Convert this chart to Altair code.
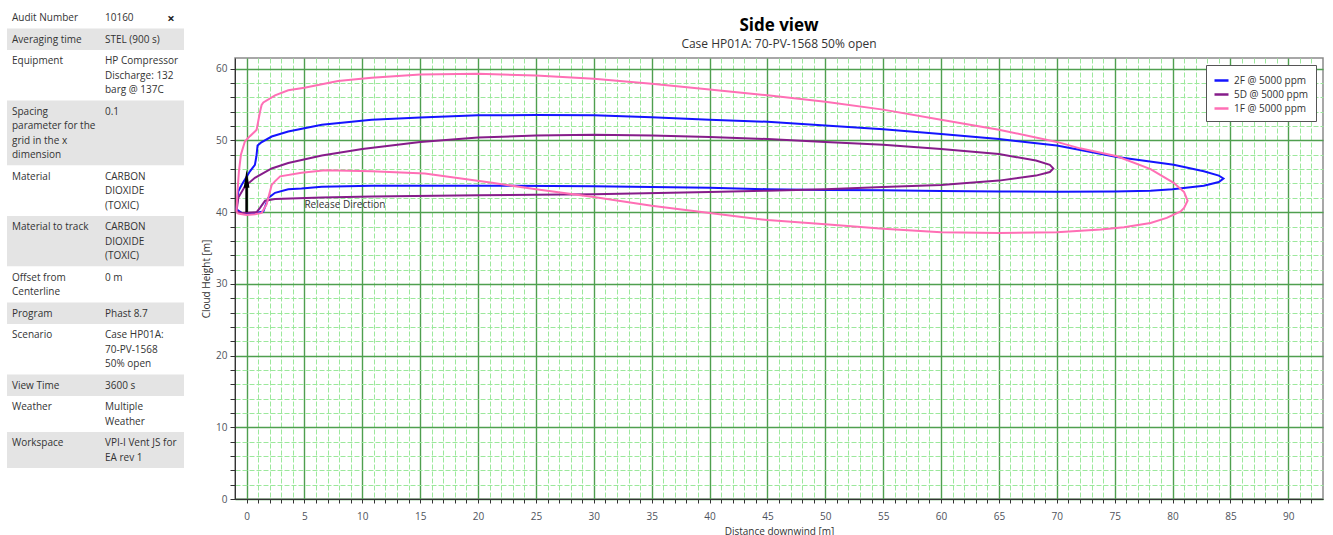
import altair as alt
import pandas as pd

# ---------------- info panel ----------------
INFO_LABELS = [
    ["Audit Number"],
    ["Averaging time"],
    ["Equipment"],
    ["Spacing", "parameter for the", "grid in the x", "dimension"],
    ["Material"],
    ["Material to track"],
    ["Offset from", "Centerline"],
    ["Program"],
    ["Scenario"],
    ["View Time"],
    ["Weather"],
    ["Workspace"],
]
INFO_VALUES = [
    ["10160"],
    ["STEL (900 s)"],
    ["HP Compressor", "Discharge: 132", "barg @ 137C"],
    ["0.1"],
    ["CARBON", "DIOXIDE", "(TOXIC)"],
    ["CARBON", "DIOXIDE", "(TOXIC)"],
    ["0 m"],
    ["Phast 8.7"],
    ["Case HP01A:", "70-PV-1568", "50% open"],
    ["3600 s"],
    ["Multiple", "Weather"],
    ["VPI-I Vent JS for", "EA rev 1"],
]

# ---------------- dispersion contours ----------------
SERIES = ["2F @ 5000 ppm", "5D @ 5000 ppm", "1F @ 5000 ppm"]
COLORS = ["#1414ff", "#861c8a", "#ff6fb5"]

F2_X = [-0.87, -0.72, -0.43, 0.29, 0.72, 0.85, 0.95, 1.24, 2.17, 3.6, 6.5, 10.8, 15, 20, 25,
        30, 35, 40, 45, 50, 55, 60, 65, 70, 75.2, 80.1, 82.7, 84.0, 84.4, 84.0, 82.7, 80.0,
        78.1, 75, 70, 65, 60, 55, 50, 45, 40, 30, 20, 10.8, 6.5, 4.75, 3.6, 2.46, 1.88, 1.45,
        0.72, -0.43, -0.87]
F2_Y = [40.4, 42.9, 43.8, 45.7, 46.6, 47.8, 49.3, 49.7, 50.55, 51.25, 52.2, 52.9, 53.2, 53.5,
        53.55, 53.5, 53.25, 52.9, 52.6, 52.1, 51.55, 50.9, 50.2, 49.3, 47.7, 46.6, 45.7, 45.1,
        44.7, 44.2, 43.7, 43.2, 43.0, 42.9, 42.85, 42.9, 42.95, 43.05, 43.1, 43.2, 43.4, 43.6,
        43.7, 43.7, 43.55, 43.3, 43.2, 42.7, 42.0, 40.1, 39.85, 39.9, 40.4]

D5_X = [-0.87, -0.72, -0.14, 0.72, 2.17, 3.6, 6.5, 10, 15, 20, 25, 30, 35, 40, 45, 50, 55, 60,
        65, 68.2, 69.4, 69.7, 69.4, 68.2, 65, 60, 55, 50, 45, 40, 30, 20, 10.8, 6.5, 2.46, 1.6,
        1.16, 0.87, -0.43, -0.87]
D5_Y = [40.1, 42.0, 43.6, 44.8, 46.1, 46.85, 47.9, 48.8, 49.8, 50.4, 50.7, 50.8, 50.7, 50.5,
        50.2, 49.8, 49.4, 48.8, 48.1, 47.2, 46.6, 46.1, 45.6, 45.1, 44.4, 43.8, 43.5, 43.2, 43.0,
        42.8, 42.5, 42.35, 42.2, 42.05, 41.85, 41.6, 40.6, 40.0, 39.9, 40.1]

F1_X = [-0.87, -0.80, -0.66, -0.49, -0.14, 0.29, 0.72, 0.87, 1.16, 1.3, 1.45, 2.46, 3.6, 5.0,
        7.9, 10.8, 15, 20, 25, 30, 35, 40, 45, 50, 55, 60, 65, 70, 72, 75.2, 78.1, 80.1, 81.0,
        81.3, 81.0, 80.7, 79.5, 78.1, 75.8, 73.8, 70, 65, 60, 55, 50, 45, 40, 35, 30, 25, 21.2,
        15.4, 10.8, 6.8, 4.75, 2.9, 2.45, 2.17, 1.73, 1.3, 0.72, 0, -0.72, -0.87]
F1_Y = [40.05, 42.5, 45.7, 48.0, 49.9, 50.6, 51.25, 51.5, 54.0, 54.95, 55.3, 56.3, 57.0, 57.35,
        58.3, 58.75, 59.2, 59.3, 59.05, 58.6, 57.9, 57.1, 56.3, 55.4, 54.3, 52.9, 51.5, 49.8,
        48.9, 47.8, 46.0, 44.1, 42.8, 41.6, 40.6, 40.1, 39.2, 38.5, 37.9, 37.6, 37.2, 37.1,
        37.2, 37.7, 38.3, 38.9, 39.9, 40.9, 42.1, 43.2, 44.1, 45.4, 45.7, 45.85, 45.5, 45.0,
        44.3, 43.8, 41.1, 39.9, 39.7, 39.6, 39.8, 40.05]

# release direction arrow (x, base height, tip height) and its caption
ARROW_X = 0.0
ARROW_BASE = 40.0
ARROW_TIP = 45.9
ARROW_HEAD_LEN = 2.5
RELEASE_LABEL = "Release Direction"
RELEASE_LABEL_X = 5.0
RELEASE_LABEL_Y = 41.0

X_DOMAIN = [-1, 93]
Y_DOMAIN = [0, 61.5]
X_TICKS = list(range(0, 93))
Y_TICKS = list(range(0, 62, 2))

FONT = "Open Sans"
TEXT_DARK = "#333333"

# ---------------- layout sizes ----------------
PLOT_W, PLOT_H = 1088, 441
TABLE_W = 177
TABLE_RISE = 51          # info panel starts this far above the plot area
LINE_H = 14.5
ROW_PAD = 7
TEXT_TOP = 6.4

# ---------------- info panel chart ----------------
rows = []
top = 0.0
for i, (lab, val) in enumerate(zip(INFO_LABELS, INFO_VALUES)):
    n = max(len(lab), len(val))
    h = ROW_PAD + LINE_H * n
    rows.append({
        "top": top, "bottom": top + h, "ty": top + TEXT_TOP,
        "label": "\n".join(lab), "value": "\n".join(val), "shaded": i % 2 == 1,
    })
    top += h
rows_df = pd.DataFrame(rows)
span = top + 10
tscale = alt.Scale(domain=[0, span], range=[-TABLE_RISE, span - TABLE_RISE])

t_base = alt.Chart(rows_df)
shade = t_base.mark_rect().encode(
    y=alt.Y("top:Q", scale=tscale, axis=None),
    y2="bottom:Q",
    x=alt.value(0),
    x2=alt.value(TABLE_W),
    color=alt.condition("datum.shaded", alt.value("#e4e4e4"), alt.value("#ffffff")),
)
txt_kw = dict(align="left", baseline="top", lineBreak="\n", lineHeight=LINE_H,
              fontSize=10, font=FONT, color=TEXT_DARK)
labels = t_base.mark_text(**txt_kw).encode(
    x=alt.value(5), y=alt.Y("ty:Q", scale=tscale, axis=None), text="label:N")
values = t_base.mark_text(**txt_kw).encode(
    x=alt.value(98), y=alt.Y("ty:Q", scale=tscale, axis=None), text="value:N")
close = alt.Chart(rows_df.head(1)).mark_text(
    text="×", fontSize=13, fontWeight="bold", font=FONT, color="#222", baseline="top"
).encode(x=alt.value(164), y=alt.Y("ty:Q", scale=tscale, axis=None))

table = alt.layer(shade, labels, values, close).properties(
    width=TABLE_W, height=PLOT_H,
    view=alt.ViewBackground(stroke="transparent"),
)

# ---------------- side view chart ----------------
frames = []
for name, xs, ys in zip(SERIES, [F2_X, D5_X, F1_X], [F2_Y, D5_Y, F1_Y]):
    frames.append(pd.DataFrame({"series": name, "x": xs, "y": ys, "i": range(len(xs))}))
lines_df = pd.concat(frames, ignore_index=True)

xscale = alt.Scale(domain=X_DOMAIN, nice=False, zero=False)
yscale = alt.Scale(domain=Y_DOMAIN, nice=False, zero=False)

x_major = "datum.value % 5 === 0"
y_major = "datum.value % 10 === 0"
axis_common = dict(
    labelFont=FONT, labelFontSize=10, labelColor="#4e535c", format="d",
    titleFont=FONT, titleFontSize=10, titleColor=TEXT_DARK, titleFontWeight="normal",
    domainColor="#333333", tickColor="#333333", labelFlush=False, tickCount=500,
)
x_axis = alt.Axis(
    values=X_TICKS,
    labelExpr=f"{x_major} ? datum.label : ''",
    tickSize=4, labelPadding=8, titlePadding=5,
    gridColor={"condition": {"test": x_major, "value": "#4f9f4f"}, "value": "#9ce89c"},
    gridDash={"condition": {"test": x_major, "value": []}, "value": [5, 2]},
    gridWidth={"condition": {"test": x_major, "value": 1.4}, "value": 1},
    **axis_common,
)
y_axis = alt.Axis(
    values=Y_TICKS,
    labelExpr=f"{y_major} ? datum.label : ''",
    tickSize=5, labelPadding=3, titlePadding=4,
    gridColor={"condition": {"test": y_major, "value": "#4f9f4f"}, "value": "#9ce89c"},
    gridDash={"condition": {"test": y_major, "value": []}, "value": [5, 2]},
    gridWidth={"condition": {"test": y_major, "value": 1.4}, "value": 1},
    **axis_common,
)

lines = alt.Chart(lines_df).mark_line(strokeWidth=2, clip=True).encode(
    x=alt.X("x:Q", scale=xscale, axis=x_axis, title="Distance downwind [m]"),
    y=alt.Y("y:Q", scale=yscale, axis=y_axis, title="Cloud Height [m]"),
    color=alt.Color(
        "series:N",
        scale=alt.Scale(domain=SERIES, range=COLORS),
        legend=alt.Legend(
            title=None, orient="top-right", offset=7, fillColor="white",
            strokeColor="#555555", padding=7, symbolType="stroke", symbolSize=196,
            symbolStrokeWidth=2.5, labelFont=FONT, labelFontSize=10,
            labelColor=TEXT_DARK, rowPadding=0, labelOffset=4,
        ),
    ),
    order="i:Q",
)

arrow_df = pd.DataFrame({
    "x": [ARROW_X], "base": [ARROW_BASE],
    "neck": [ARROW_TIP - ARROW_HEAD_LEN + 0.3],
    "head": [ARROW_TIP - ARROW_HEAD_LEN / 2],
})
shaft = alt.Chart(arrow_df).mark_rule(color="black", strokeWidth=2.5).encode(
    x=alt.X("x:Q", scale=xscale), y=alt.Y("base:Q", scale=yscale), y2="neck:Q")
head = alt.Chart(arrow_df).mark_point(
    shape="M0,-1L0.32,1L-0.32,1Z", filled=True, color="black", opacity=1, size=324
).encode(x=alt.X("x:Q", scale=xscale), y=alt.Y("head:Q", scale=yscale))

note_df = pd.DataFrame({"x": [RELEASE_LABEL_X], "y": [RELEASE_LABEL_Y], "t": [RELEASE_LABEL]})
note = alt.Chart(note_df).mark_text(
    align="left", baseline="middle", fontSize=10, font=FONT, color=TEXT_DARK
).encode(x=alt.X("x:Q", scale=xscale), y=alt.Y("y:Q", scale=yscale), text="t:N")

main = alt.layer(lines, shaft, head, note).properties(
    width=PLOT_W, height=PLOT_H,
    title=alt.Title(
        "Side view", subtitle="Case HP01A: 70-PV-1568 50% open",
        anchor="middle", frame="group", font=FONT, fontSize=17, fontWeight="bold",
        color="#000000", subtitleFont=FONT, subtitleFontSize=12,
        subtitleColor=TEXT_DARK, subtitlePadding=4, offset=7,
    ),
    view=alt.ViewBackground(stroke="#8a8a8a", strokeWidth=1.5),
)

chart = alt.hconcat(table, main, spacing=51, bounds="flush").resolve_scale(
    x="independent", y="independent", color="independent"
).properties(
    padding={"left": 6, "top": 6, "right": 5, "bottom": 0},
).configure(font=FONT)

chart.save("out.html", embed_options={"renderer": "svg", "actions": False})
